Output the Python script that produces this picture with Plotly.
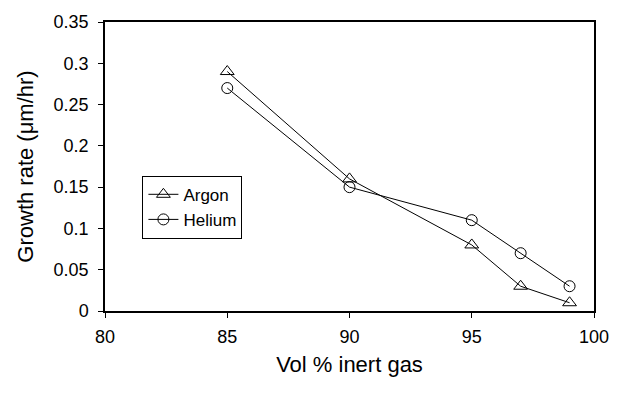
import plotly.graph_objects as go

vol_pct = [85, 90, 95, 97, 99]
argon_rate = [0.29, 0.16, 0.08, 0.03, 0.01]
helium_rate = [0.27, 0.15, 0.11, 0.07, 0.03]

font = "Liberation Sans, Arial, sans-serif"

fig = go.Figure()
fig.add_trace(go.Scatter(
    x=vol_pct, y=argon_rate, name="Argon", mode="lines+markers",
    line=dict(color="black", width=1),
    marker=dict(symbol="triangle-up-open", size=12, color="black", line=dict(width=1)),
))
fig.add_trace(go.Scatter(
    x=vol_pct, y=helium_rate, name="Helium", mode="lines+markers",
    line=dict(color="black", width=1),
    marker=dict(symbol="circle-open", size=11, color="black", line=dict(width=1)),
))

axis_common = dict(
    showgrid=False, zeroline=False, showline=True, linecolor="black", linewidth=1.5,
    mirror=True, ticks="outside", ticklen=5, tickcolor="black", tickwidth=1,
    tickfont=dict(family=font, size=18, color="black"),
)

fig.update_layout(
    width=621, height=394,
    margin=dict(l=105, r=19, t=14, b=83),
    paper_bgcolor="white", plot_bgcolor="white",
    font=dict(family=font, color="black"),
    xaxis=dict(range=[80, 100], dtick=5, tick0=80, ticklabelstandoff=4,
               title=dict(text="Vol % inert gas", font=dict(family=font, size=22), standoff=10),
               **axis_common),
    yaxis=dict(range=[0, 0.35], dtick=0.05, tick0=0, tickformat="~g", ticklabelstandoff=6,
               title=dict(text="Growth rate (μm/hr)", font=dict(family=font, size=22), standoff=14),
               **axis_common),
    legend=dict(x=0.0765, y=0.468, xanchor="left", yanchor="top",
                bordercolor="black", borderwidth=1, bgcolor="white",
                font=dict(family=font, size=17), tracegroupgap=0, itemwidth=30),
    showlegend=True,
)

fig.write_html("out.html")
